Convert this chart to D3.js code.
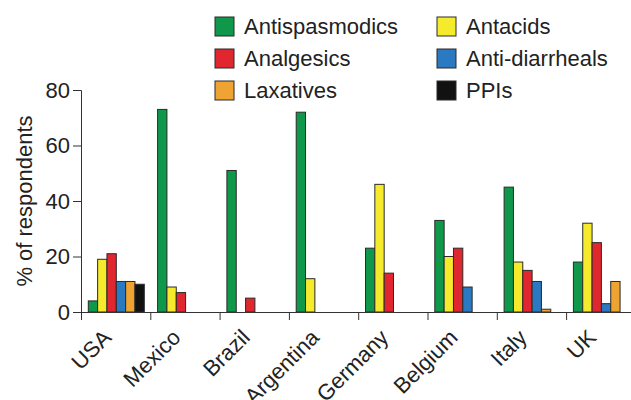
<!DOCTYPE html>
<html>
<head>
<meta charset="utf-8">
<script src="https://cdn.jsdelivr.net/npm/d3@7"></script>
<style>
  body { margin: 0; background: #fff; }
  text { font-family: "Liberation Sans", Arial, Helvetica, sans-serif; fill: #222; }
</style>
</head>
<body>
<div id="chart"></div>
<script>
const countries = ['USA', 'Mexico', 'Brazil', 'Argentina', 'Germany', 'Belgium', 'Italy', 'UK'];
const drugs = ['Antispasmodics', 'Antacids', 'Analgesics', 'Anti-diarrheals', 'Laxatives', 'PPIs'];
const colors = ['#10984a', '#f6ea2c', '#e0262e', '#2b79c0', '#eea332', '#111111'];

// % of respondents, per drug class, in country order
const antispasmodics = [4, 73, 51, 72, 23, 33, 45, 18];
const antacids = [19, 9, 0, 12, 46, 20, 18, 32];
const analgesics = [21, 7, 5, 0, 14, 23, 15, 25];
const antiDiarrheals = [11, 0, 0, 0, 0, 9, 11, 3];
const laxatives = [11, 0, 0, 0, 0, 0, 1, 11];
const ppis = [10, 0, 0, 0, 0, 0, 0, 0];
const yTicks = [0, 20, 40, 60, 80];

const series = [antispasmodics, antacids, analgesics, antiDiarrheals, laxatives, ppis];

const W = 631, H = 400;
const left = 81, groupW = 69.3, y0 = 312, yTop = 90;

const svg = d3.select('#chart')
    .append('svg')
    .attr('width', W)
    .attr('height', H);

const x0 = d3.scaleBand()
    .domain(countries)
    .range([left, left + groupW * countries.length]);

const x1 = d3.scaleBand()
    .domain(drugs)
    .range([7.3, groupW - 6]);

const y = d3.scaleLinear()
    .domain([0, 80])
    .range([y0, yTop]);

// bars
const groups = svg.selectAll('g.country')
    .data(countries)
    .enter()
    .append('g')
    .attr('class', 'country')
    .attr('transform', d => `translate(${x0(d)},0)`);

groups.selectAll('rect')
    .data((c, ci) => drugs.map((d, di) => ({drug: d, i: di, v: series[di][ci]})).filter(e => e.v > 0))
    .enter()
    .append('rect')
    .attr('x', d => x1(d.drug))
    .attr('y', d => y(d.v))
    .attr('width', x1.bandwidth())
    .attr('height', d => y0 - y(d.v))
    .attr('fill', d => colors[d.i])
    .attr('stroke', '#2a2a2a')
    .attr('stroke-width', 1);

// y axis
const yAxis = svg.append('g')
    .attr('transform', `translate(${left},0)`)
    .call(d3.axisLeft(y).tickValues(yTicks).tickSize(8).tickPadding(3));
yAxis.selectAll('path, line').attr('stroke', '#333');
yAxis.selectAll('text').style('font-size', '22px').attr('fill', '#222');

// x axis
svg.append('line')
    .attr('x1', left).attr('x2', W)
    .attr('y1', y0 + 0.5).attr('y2', y0 + 0.5)
    .attr('stroke', '#333');

svg.selectAll('line.xtick')
    .data(countries)
    .enter()
    .append('line')
    .attr('class', 'xtick')
    .attr('x1', d => x0(d) + 0.5).attr('x2', d => x0(d) + 0.5)
    .attr('y1', y0).attr('y2', y0 + 8)
    .attr('stroke', '#333');

svg.selectAll('text.xlab')
    .data(countries)
    .enter()
    .append('text')
    .attr('class', 'xlab')
    .attr('transform', d => `translate(${x0(d) + x0.bandwidth() / 2 - 14},${y0 + 16}) rotate(-45)`)
    .attr('text-anchor', 'end')
    .attr('dy', '0.7em')
    .style('font-size', '22px')
    .text(d => d);

// y label
svg.append('text')
    .attr('transform', `translate(32,${(y0 + yTop) / 2}) rotate(-90)`)
    .attr('text-anchor', 'middle')
    .style('font-size', '22px')
    .text('% of respondents');

// legend
const legendOrder = [0, 2, 4, 1, 3, 5];
const legend = svg.selectAll('g.legend')
    .data(legendOrder)
    .enter()
    .append('g')
    .attr('class', 'legend')
    .attr('transform', (d, i) => `translate(${i < 3 ? 215 : 437},${17 + (i % 3) * 32})`);

legend.append('rect')
    .attr('width', 19)
    .attr('height', 19)
    .attr('fill', d => colors[d])
    .attr('stroke', '#2a2a2a')
    .attr('stroke-width', 1);

legend.append('text')
    .attr('x', 29)
    .attr('y', 17)
    .style('font-size', '22px')
    .text(d => drugs[d]);
</script>
</body>
</html>
